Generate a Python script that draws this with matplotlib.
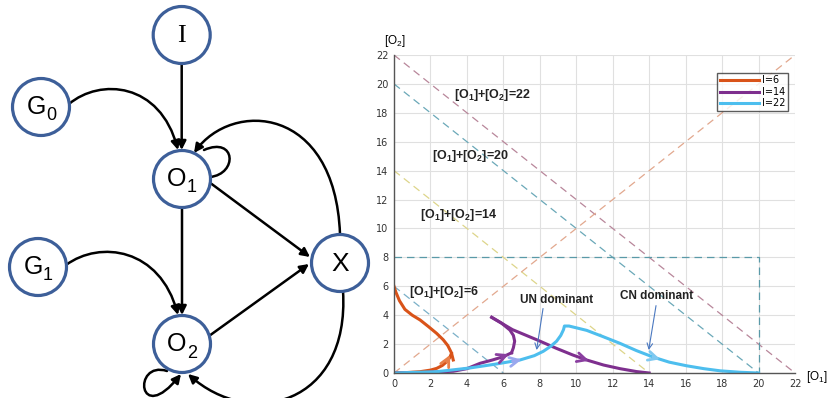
import matplotlib
matplotlib.use("Agg")
import matplotlib.pyplot as plt
from matplotlib.patches import Circle, FancyArrowPatch
from matplotlib.path import Path

plt.rcParams["mathtext.fontset"] = "custom"
plt.rcParams["mathtext.rm"] = "Liberation Sans"
plt.rcParams["mathtext.bf"] = "Liberation Sans:bold"

# ---- data: trajectories in the ([O1], [O2]) plane ----
i6_top_o1 = [0, 0.1, 0.3, 0.6, 1.0, 1.43, 1.9, 2.34, 2.7, 2.95, 3.15, 3.25]
i6_top_o2 = [6.0, 5.6, 5.0, 4.4, 4.0, 3.67, 3.2, 2.74, 2.3, 1.9, 1.4, 0.9]
i6_low_o1 = [0, 0.7, 1.43, 2.0, 2.34, 2.65, 2.89, 3.05, 3.15]
i6_low_o2 = [0, 0.03, 0.09, 0.2, 0.32, 0.52, 0.78, 1.05, 1.35]

i14_low_o1 = [0, 1.5, 3.25, 4.0, 4.72, 5.4, 6.0, 6.45]
i14_low_o2 = [0, 0.03, 0.12, 0.3, 0.67, 0.9, 1.13, 1.4]
i14_hook_o1 = [5.36, 5.9, 6.36, 6.55, 6.62, 6.55, 6.45]
i14_hook_o2 = [3.85, 3.45, 2.97, 2.6, 2.2, 1.75, 1.4]
i14_down_o1 = [5.36, 6.5, 7.83, 8.92, 9.8, 10.57, 11.5, 12.4, 13.3, 14.0]
i14_down_o2 = [3.85, 3.0, 2.3, 1.7, 1.25, 0.9, 0.55, 0.3, 0.1, 0.0]

i22_o1 = [0, 2.34, 4.17, 5.5, 6.91, 7.7, 8.19, 8.6, 8.92, 9.15, 9.3, 9.35,
          9.6, 10.57, 11.5, 12.4, 13.3, 14.22, 15.1, 16.05, 17.0, 17.9, 19.0, 20.0]
i22_o2 = [0, 0.09, 0.35, 0.6, 0.9, 1.2, 1.5, 1.85, 2.2, 2.6, 3.0, 3.25,
          3.25, 2.95, 2.5, 2.05, 1.55, 1.1, 0.75, 0.5, 0.3, 0.15, 0.05, 0.0]

sum_levels = [22, 20, 14, 6]
box_o1 = [0, 20, 20]
box_o2 = [8, 8, 0]
ticks = list(range(0, 23, 2))

fig = plt.figure(figsize=(8.3, 3.98), dpi=100)

# ================= left: network diagram =================
ax0 = fig.add_axes([0, 0, 380 / 830, 1])
ax0.set_xlim(0, 380)
ax0.set_ylim(398, 0)
ax0.axis("off")

nodes = {"I": (181.7, 35), "G0": (41, 107), "O1": (182, 179),
         "G1": (38, 267), "X": (340, 263), "O2": (182, 344)}
R = 28.5
for name, (x, y) in nodes.items():
    ax0.add_patch(Circle((x, y), R, fc="white", ec="#3d5f99", lw=2.3, zorder=3))
    if name == "I":
        ax0.text(x, y + 1, "I", fontsize=19, family="Liberation Serif",
                 ha="center", va="center", zorder=4)
    elif name == "X":
        ax0.text(x, y + 1, "X", fontsize=19, family="Liberation Sans",
                 ha="center", va="center", zorder=4)
    else:
        ax0.text(x - 5, y, name[0], fontsize=18, family="Liberation Sans",
                 ha="center", va="center", zorder=4)
        ax0.text(x + 10, y + 9, name[1], fontsize=13, family="Liberation Sans",
                 ha="center", va="center", zorder=4)


def curve(pts, head=True):
    codes = [Path.MOVETO] + [Path.CURVE4] * (len(pts) - 1)
    arr = FancyArrowPatch(path=Path(pts, codes),
                          arrowstyle="-|>" if head else "-",
                          mutation_scale=13, lw=1.8, color="black", zorder=2)
    ax0.add_patch(arr)


def line(p0, p1):
    ax0.add_patch(FancyArrowPatch(p0, p1, arrowstyle="-|>", mutation_scale=13,
                                  lw=1.8, color="black", zorder=2,
                                  shrinkA=0, shrinkB=0))


line((181.7, 65), (181.7, 150))
line((182, 208), (182, 315))
line((209, 182), (310, 257))
line((209, 336), (309, 264))
curve([(69, 104), (100, 78), (160, 82), (178, 150)])
curve([(66, 265), (100, 240), (160, 248), (178, 315)])
curve([(340, 234), (335, 105), (232, 100), (194, 153)])
curve([(343, 291), (350, 405), (250, 430), (188, 374)])
curve([(210, 177), (238, 174), (236, 136), (204, 150)], head=False)
curve([(167, 371), (132, 360), (138, 428), (181, 374)])

# ================= right: phase plane =================
ax = fig.add_axes([394 / 830, 25 / 398, 401 / 830, 318 / 398])
ax.set_xlim(0, 22)
ax.set_ylim(0, 22)
ax.set_xticks(ticks)
ax.set_yticks(ticks)
ax.grid(True, color="#e0e0e0", lw=0.8)
ax.set_axisbelow(True)
for s in ["top", "right"]:
    ax.spines[s].set_visible(False)
for s in ["left", "bottom"]:
    ax.spines[s].set_color("#555555")
    ax.spines[s].set_linewidth(1.0)
ax.tick_params(length=0, labelsize=7, colors="#333333", pad=4)

dash_cols = {22: "#b8869a", 20: "#6aa8b8", 14: "#ddd58a", 6: "#7ab0c8"}
for s in sum_levels:
    ax.plot([0, s], [s, 0], ls=(0, (6, 4)), lw=0.9, color=dash_cols[s])
ax.plot([0, 22], [0, 22], ls=(0, (6, 4)), lw=0.9, color="#e2a88e")
ax.plot(box_o1, box_o2, ls=(0, (6, 4)), lw=0.9, color="#5a9aa8")

c6, c14, c22 = "#d95319", "#7e2f8e", "#4dbeee"
ax.plot(i6_top_o1, i6_top_o2, color=c6, lw=2.2, label="I=6")
ax.plot(i6_low_o1, i6_low_o2, color=c6, lw=2.2)
ax.plot(i14_low_o1, i14_low_o2, color=c14, lw=2.2, label="I=14")
ax.plot(i14_hook_o1, i14_hook_o2, color=c14, lw=2.2)
ax.plot(i14_down_o1, i14_down_o2, color=c14, lw=2.2)
ax.plot(i22_o1, i22_o2, color=c22, lw=2.2, label="I=22")


def head(tip, tail, col):
    ax.annotate("", xy=tip, xytext=tail,
                arrowprops=dict(arrowstyle="->", color=col, lw=2.0,
                                mutation_scale=16, shrinkA=0, shrinkB=0))


head((3.08, 1.25), (2.89, 0.78), "#e8804a")
head((6.3, 1.3), (5.9, 1.1), "#8a3fa0")
head((10.7, 0.85), (10.3, 1.0), "#8a3fa0")
head((7.0, 0.93), (6.5, 0.8), "#9aa8ee")
head((14.6, 0.95), (14.2, 1.1), "#7ec8f0")

lab = dict(fontweight="bold", color="#222222", family="Liberation Sans")
ax.text(3.3, 19.2, r"[O$_\mathbf{1}$]+[O$_\mathbf{2}$]=22", va="center",
        fontsize=9, **lab)
ax.text(2.1, 15.0, r"[O$_\mathbf{1}$]+[O$_\mathbf{2}$]=20", va="center",
        fontsize=9, **lab)
ax.text(1.4, 10.9, r"[O$_\mathbf{1}$]+[O$_\mathbf{2}$]=14", va="center",
        fontsize=9, **lab)
ax.text(0.8, 5.6, r"[O$_\mathbf{1}$]+[O$_\mathbf{2}$]=6", va="center",
        fontsize=9, **lab)

ax.text(8.9, 5.05, "UN dominant", ha="center", va="center", fontsize=8.5, **lab)
ax.text(14.4, 5.3, "CN dominant", ha="center", va="center", fontsize=8.5, **lab)
ax.annotate("", xy=(7.8, 1.4), xytext=(8.2, 4.65),
            arrowprops=dict(arrowstyle="->", color="#4a78c0", lw=0.8))
ax.annotate("", xy=(13.95, 1.4), xytext=(14.4, 4.85),
            arrowprops=dict(arrowstyle="->", color="#4a78c0", lw=0.8))

ax.text(0.05, 23.0, r"[O$_2$]", ha="center", va="center", fontsize=8.5,
        family="Liberation Sans", clip_on=False)
ax.text(23.2, -0.3, r"[O$_1$]", ha="center", va="center", fontsize=8.5,
        family="Liberation Sans", clip_on=False)

ax.legend(loc="upper right", bbox_to_anchor=(0.995, 0.96), fontsize=7,
          handlelength=4, frameon=True, fancybox=False, edgecolor="#333333",
          borderpad=0.3, labelspacing=0.15, handletextpad=0.3)

fig.savefig("out.png", dpi=100)
